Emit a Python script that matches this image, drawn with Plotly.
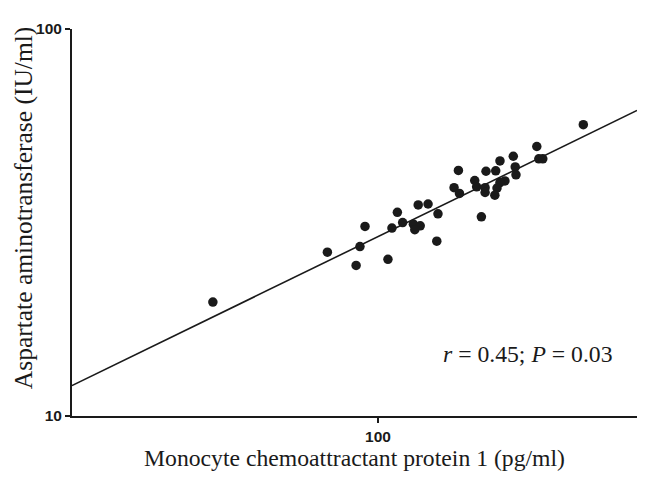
import plotly.graph_objects as go

# MCP-1 (pg/ml) and AST (IU/ml)
mcp1 = [332, 253, 256, 262, 220.5, 204, 223, 224, 188, 199, 160, 210, 204, 176,
        178, 187, 187, 200.5, 198, 156, 161, 183, 126.5, 134, 142, 112, 115.5,
        123, 128, 124, 108.5, 141, 92.7, 90, 74.4, 88, 106, 38.1]
ast = [56.6, 49.7, 46.2, 46.2, 46.9, 45.6, 44.0, 42.0, 42.9, 43.0, 43.1, 40.5,
       40.1, 40.6, 39.1, 38.9, 37.8, 38.8, 37.2, 38.9, 37.6, 32.7, 35.1, 35.3,
       33.3, 33.6, 31.6, 31.3, 31.0, 30.3, 30.6, 28.3, 30.9, 27.4, 26.5, 24.5,
       25.4, 19.7]

# regression line end points
fit_x = [16.72, 454.4]
fit_y = [11.98, 61.6]

x_tick_vals = [100]
x_tick_text = ["100"]
y_tick_vals = [10, 100]
y_tick_text = ["10", "100"]

serif = "Liberation Serif, Times New Roman, serif"
sans = "Liberation Sans, Arial, sans-serif"
ink = "#1a1a1a"

fig = go.Figure()
fig.add_trace(go.Scatter(x=fit_x, y=fit_y, mode="lines",
                         line=dict(color=ink, width=1.6),
                         showlegend=False, hoverinfo="skip"))
fig.add_trace(go.Scatter(x=mcp1, y=ast, mode="markers",
                         marker=dict(color=ink, size=9.5, line=dict(width=0)),
                         showlegend=False))

fig.update_layout(
    width=643, height=475,
    margin=dict(l=64, r=14, t=13, b=67),
    paper_bgcolor="white", plot_bgcolor="white",
    xaxis=dict(type="log", range=[1.2234, 2.6574],
               tickvals=x_tick_vals, ticktext=x_tick_text,
               showgrid=False, zeroline=False,
               showline=True, linecolor=ink, linewidth=2,
               ticks="outside", ticklen=5, tickwidth=1.5, tickcolor=ink,
               tickfont=dict(family=sans, size=15.5, color=ink, weight="bold"),
               title=dict(text="Monocyte chemoattractant protein 1 (pg/ml)",
                          font=dict(family=serif, size=23.7, color=ink),
                          standoff=3)),
    yaxis=dict(type="log", range=[1, 2],
               tickvals=y_tick_vals, ticktext=y_tick_text,
               showgrid=False, zeroline=False,
               showline=True, linecolor=ink, linewidth=2,
               ticks="outside", ticklen=5, tickwidth=1.5, tickcolor=ink,
               tickfont=dict(family=sans, size=15.5, color=ink, weight="bold")),
    annotations=[
        dict(text="Aspartate aminotransferase (IU/ml)", textangle=-90,
             xref="paper", yref="paper", x=0, y=0.537, xshift=-49,
             xanchor="center", yanchor="middle", showarrow=False,
             font=dict(family=serif, size=25.5, color=ink)),
        dict(text="<i>r</i> = 0.45; <i>P</i> = 0.03",
             xref="paper", yref="paper", x=0.961, y=0.159,
             xanchor="right", yanchor="middle", showarrow=False,
             font=dict(family=serif, size=23.7, color=ink))],
)

fig.write_html("out.html")
